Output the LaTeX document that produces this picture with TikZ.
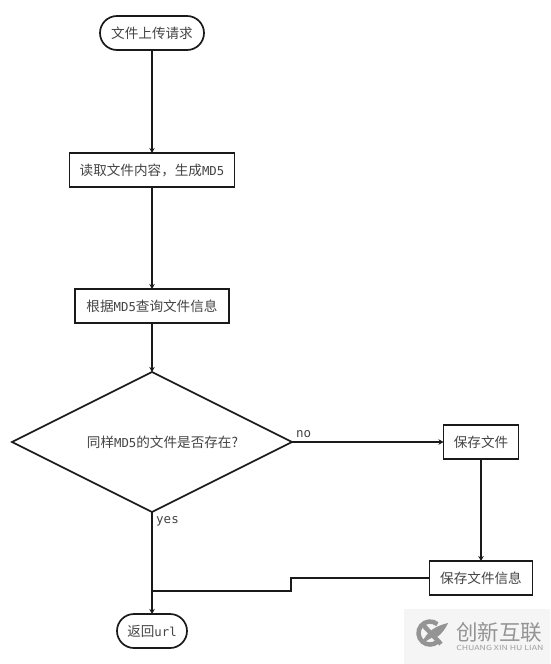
\documentclass[tikz,border=0pt]{standalone}
\usepackage{fontspec}
\usetikzlibrary{shapes.geometric,arrows.meta}
\setmainfont{Noto Sans CJK SC}
\newfontfamily\lat{DejaVu Sans Mono}
\newcommand{\latin}[1]{{\lat\fontsize{12.3}{14}\selectfont #1}}
\definecolor{ink}{HTML}{1A1A1A}
\definecolor{txt}{HTML}{444444}
\tikzset{
  x=1pt,y=-1pt,
  base/.style={draw=ink,line width=1.7pt,fill=white,text=txt,font=\fontsize{13.6}{15}\selectfont,inner sep=0pt,outer sep=0pt},
  boxnode/.style={base,rectangle,minimum height=34pt},
  pill/.style={base,rectangle,rounded corners=17pt,minimum height=34pt},
  dec/.style={base,diamond,minimum width=280pt,minimum height=140pt,aspect=2},
  conn/.style={draw=ink,line width=1.7pt},
  arr/.style={conn,-{Stealth[length=5pt,width=5.5pt]}},
  lab/.style={text=txt,font=\lat\fontsize{12.5}{14}\selectfont,inner sep=0pt},
}
\begin{document}
\begin{tikzpicture}
\useasboundingbox (0,0) rectangle (550,664);
\fill[white] (0,0) rectangle (550,664);
\node[pill,minimum width=104pt] (start) at (152,33) {文件上传请求};
\node[boxnode,minimum width=165pt] (read) at (152,170) {读取文件内容，生成\latin{MD5}};
\node[boxnode,minimum width=154pt] (query) at (152,306) {根据\latin{MD5}查询文件信息};
\node[dec] (check) at (152,442) {\hspace*{21pt}同样\latin{MD5}的文件是否存在?};
\node[boxnode,minimum width=75pt] (save) at (481,442) {保存文件};
\node[boxnode,minimum width=103pt] (info) at (481,578) {保存文件信息};
\node[pill,minimum width=70pt] (ret) at (152,631) {返回\latin{url}};
\coordinate (e1) at (291,578);
\coordinate (e2) at (291,591);
\coordinate (e3) at (152,591);
\draw[arr] (start) -- (read);
\draw[arr] (read) -- (query);
\draw[arr] (query) -- (check);
\draw[arr] (check.east) -- (save.west);
\draw[arr] (save) -- (info);
\draw[arr] (check.south) -- (ret.north);
\draw[conn,line join=miter] (info.west) -- (e1) -- (e2) -- (e3);
\node[lab,anchor=west] (no) at (296,434) {no};
\node[lab,anchor=west] (yes) at (156,521) {yes};
% watermark
\fill[black!4] (404,609) rectangle (550,664);
\draw[black!42,line width=4.5pt] (437.4,624.2) arc (-50:-310:11.5);
\draw[black!42,line width=4.5pt] (424,626) -- (441,644);
\fill[black!42] (421,644) .. controls (428,630) and (436,626) .. (448,623) .. controls (444,632) and (436,640) .. (433,637) -- cycle;
\node[text=black!42,font=\fontsize{21.5}{23}\selectfont,inner sep=0pt,anchor=west] (wm) at (456,632) {创新互联};
\node[text=black!38,font=\fontsize{7}{8}\selectfont,inner sep=0pt,anchor=west,xscale=1.25] (wm2) at (456,647.5) {CHUANG XIN HU LIAN};
\end{tikzpicture}
\end{document}
